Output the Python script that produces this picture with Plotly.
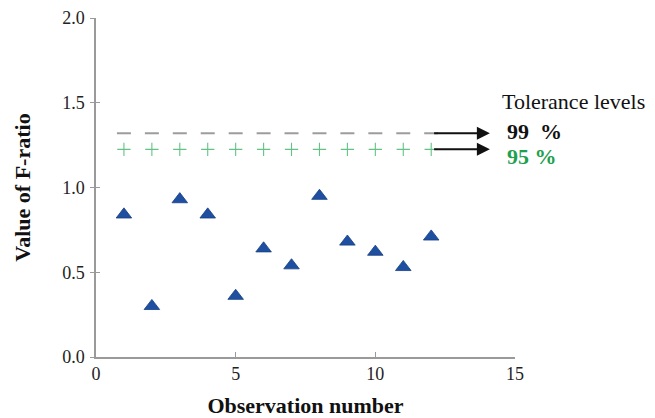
import plotly.graph_objects as go

obs = [1, 2, 3, 4, 5, 6, 7, 8, 9, 10, 11, 12]
f_ratio = [0.84, 0.30, 0.93, 0.84, 0.36, 0.64, 0.54, 0.95, 0.68, 0.62, 0.53, 0.71]
tol99 = [1.32] * 12
tol95 = [1.225] * 12
x_ticks = [0, 5, 10, 15]
y_ticks = [0.0, 0.5, 1.0, 1.5, 2.0]
y_tick_text = ["0.0", "0.5", "1.0", "1.5", "2.0"]

SERIF = "Liberation Serif"
AXIS_GRAY = "#9a9a9a"

fig = go.Figure()
fig.add_trace(go.Scatter(
    x=obs, y=tol99, mode="markers",
    marker=dict(symbol="line-ew", size=10, line=dict(color="#9c9c9c", width=2)),
    showlegend=False, hoverinfo="skip"))
fig.add_trace(go.Scatter(
    x=obs, y=tol95, mode="markers",
    marker=dict(symbol="cross-thin", size=9.5, line=dict(color="#62c484", width=1.1)),
    showlegend=False, hoverinfo="skip"))
fig.add_trace(go.Scatter(
    x=obs, y=f_ratio, mode="markers",
    marker=dict(symbol="triangle-up", size=13.5, color="#1f4fa0",
                line=dict(color="#183f80", width=0.8)),
    showlegend=False))
# helper trace for inner half of crossing y ticks
fig.add_trace(go.Scatter(x=obs, y=f_ratio, yaxis="y2", mode="markers",
                         marker=dict(opacity=0), showlegend=False, hoverinfo="skip"))

# arrows
for yv in (tol99[0], tol95[0]):
    fig.add_annotation(x=14.1, y=yv, xref="x", yref="y", ax=12.05, ay=yv,
                       axref="x", ayref="y", text="", showarrow=True,
                       arrowhead=2, arrowsize=1.3, arrowwidth=2, arrowcolor="#111111")

fig.add_annotation(x=0.965, y=0.753, xref="paper", yref="paper", xanchor="left",
                   yanchor="middle", text="Tolerance levels", showarrow=False,
                   font=dict(family=SERIF, size=22, color="#111111"))
fig.add_annotation(x=0.977, y=0.665, xref="paper", yref="paper", xanchor="left",
                   yanchor="middle", text="<b>99\u00a0 %</b>", showarrow=False,
                   font=dict(family=SERIF, size=22, color="#111111"))
fig.add_annotation(x=0.977, y=0.59, xref="paper", yref="paper", xanchor="left",
                   yanchor="middle", text="<b>95 %</b>", showarrow=False,
                   font=dict(family=SERIF, size=22, color="#1fa050"))

fig.update_layout(
    width=647, height=410,
    margin=dict(l=88, r=140, t=10, b=61, autoexpand=False),
    paper_bgcolor="white", plot_bgcolor="white",
    xaxis=dict(range=[0, 15], tickvals=x_ticks, ticks="inside", ticklen=5,
               tickcolor=AXIS_GRAY, tickwidth=1.2, showline=True, linecolor=AXIS_GRAY,
               linewidth=1.5, showgrid=False, zeroline=False, automargin=False,
               tickfont=dict(family=SERIF, size=18, color="#222222"),
               title=dict(text="<b>Observation number</b>", standoff=14,
                          font=dict(family=SERIF, size=22, color="#111111"))),
    yaxis=dict(range=[0, 2], tickvals=y_ticks, ticktext=y_tick_text, ticks="outside",
               ticklen=4, tickcolor=AXIS_GRAY, tickwidth=1.2, showline=True,
               linecolor=AXIS_GRAY, linewidth=1.5, showgrid=False, zeroline=False,
               ticklabelstandoff=2, automargin=False,
               tickfont=dict(family=SERIF, size=18, color="#222222"),
               title=dict(text="<b>Value of F-ratio</b>", standoff=25,
                          font=dict(family=SERIF, size=22, color="#111111"))),
    yaxis2=dict(range=[0, 2], tickvals=y_ticks, overlaying="y", side="left",
                ticks="inside", ticklen=4, tickcolor=AXIS_GRAY, tickwidth=1.2,
                automargin=False,
                showticklabels=False, showgrid=False, zeroline=False, showline=False),
)

fig.write_html("out.html")
